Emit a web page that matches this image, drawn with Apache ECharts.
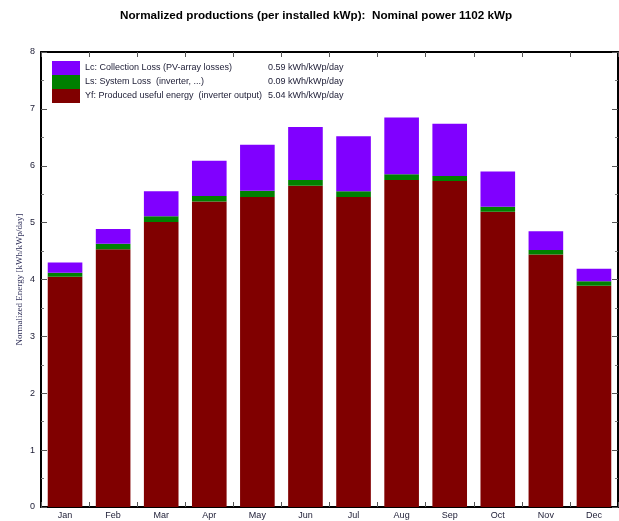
<!DOCTYPE html>
<html>
<head>
<meta charset="utf-8">
<script src="https://cdn.jsdelivr.net/npm/echarts@6/dist/echarts.min.js"></script>
<style>html,body{margin:0;padding:0;background:#fff}#c{width:619px;height:521px}</style>
</head>
<body>
<div id="c"></div>
<script>
var months = ['Jan','Feb','Mar','Apr','May','Jun','Jul','Aug','Sep','Oct','Nov','Dec'];
var yf = [4.05,4.53,5.01,5.37,5.45,5.65,5.45,5.75,5.73,5.19,4.44,3.89];
var ls = [0.07,0.10,0.10,0.10,0.11,0.10,0.10,0.10,0.09,0.09,0.08,0.08];
var lc = [0.18,0.26,0.44,0.62,0.81,0.93,0.97,1.00,0.92,0.62,0.33,0.22];
var legendNames = ['Lc: Collection Loss (PV-array losses)','Ls: System Loss  (inverter, ...)','Yf: Produced useful energy  (inverter output)'];
var legendValues = ['0.59 kWh/kWp/day','0.09 kWh/kWp/day','5.04 kWh/kWp/day'];
var titleText = 'Normalized productions (per installed kWp):  Nominal power 1102 kWp';
var yName = 'Normalized Energy [kWh/kWp/day]';

var txtColor = '#22223a';
var chart = echarts.init(document.getElementById('c'), null, {renderer:'canvas'});
var axisLine = {show:true, onZero:false, lineStyle:{color:'#000', width:2}};
var tickStyle = {color:'#555', width:1};
chart.setOption({
  animation:false,
  backgroundColor:'#fff',
  title:{text:titleText, left:115, top:5, textStyle:{fontFamily:'Liberation Sans, Arial', fontSize:11.7, fontWeight:'bold', color:'#000'}},
  legend:{
    orient:'vertical', left:47, top:56, itemWidth:28, itemHeight:14, itemGap:0, icon:'rect',
    data:legendNames,
    formatter:function(n){var i=legendNames.indexOf(n);return '{a|'+n+'}{b|'+legendValues[i]+'}';},
    textStyle:{fontFamily:'Liberation Sans, Arial', fontSize:9, color:txtColor,
      rich:{a:{width:183, fontSize:9, color:txtColor, fontFamily:'Liberation Sans, Arial'}, b:{fontSize:9, color:txtColor, fontFamily:'Liberation Sans, Arial'}}}
  },
  grid:{left:41, right:1, top:52, bottom:14},
  xAxis:[
    {type:'category', data:months, position:'bottom', axisLine:axisLine,
     axisTick:{show:true, inside:true, length:5, lineStyle:tickStyle},
     axisLabel:{fontFamily:'Liberation Sans, Arial', fontSize:9, color:txtColor, margin:4}},
    {type:'category', data:months, position:'top', axisLine:axisLine,
     axisTick:{show:true, inside:true, length:5, lineStyle:tickStyle},
     axisLabel:{show:false}}
  ],
  yAxis:[
    {type:'value', min:0, max:8, interval:1, position:'left', axisLine:axisLine,
     axisTick:{show:true, inside:true, length:6, lineStyle:tickStyle},
     minorTick:{show:true, splitNumber:2, length:3, lineStyle:{color:'#777'}},
     splitLine:{show:false},
     axisLabel:{fontFamily:'Liberation Sans, Arial', fontSize:9, color:txtColor, margin:6},
     name:yName, nameLocation:'middle', nameRotate:90, nameGap:17, nameMoveOverlap:false,
     nameTextStyle:{fontFamily:'Liberation Serif, Times New Roman', fontSize:9, color:'#30305a'}},
    {type:'value', min:0, max:8, interval:1, position:'right', axisLine:axisLine,
     axisTick:{show:true, inside:true, length:6, lineStyle:tickStyle},
     minorTick:{show:true, splitNumber:2, length:3, lineStyle:{color:'#777'}},
     splitLine:{show:false}, axisLabel:{show:false}}
  ],
  series:[
    {name:legendNames[2], type:'bar', stack:'e', data:yf, barCategoryGap:'28%', itemStyle:{color:'#800000'}},
    {name:legendNames[1], type:'bar', stack:'e', data:ls, itemStyle:{color:'#008000'}},
    {name:legendNames[0], type:'bar', stack:'e', data:lc, itemStyle:{color:'#8000ff'}}
  ]
});
</script>
</body>
</html>
